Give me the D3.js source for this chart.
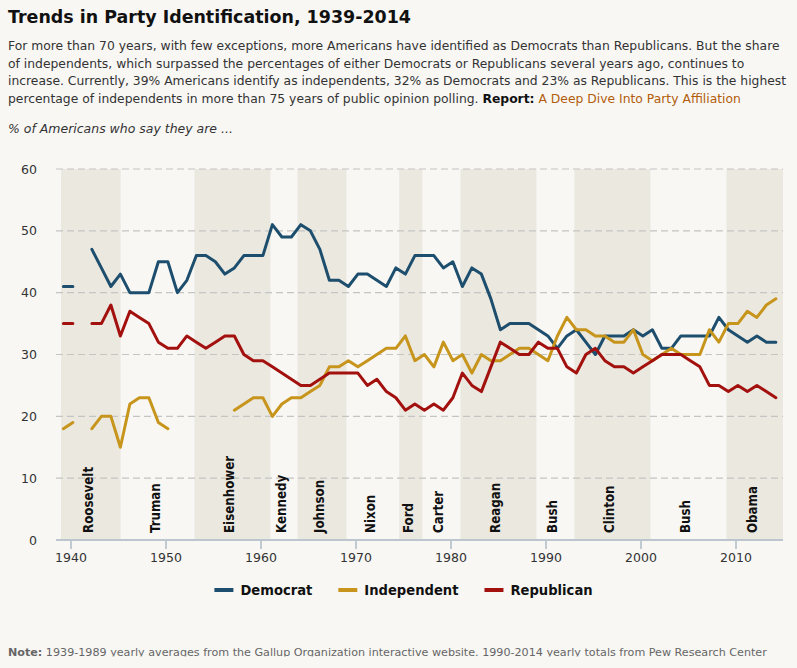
<!DOCTYPE html>
<html><head><meta charset="utf-8">
<script src="https://cdn.jsdelivr.net/npm/d3@7"></script>
<style>
html,body{margin:0;padding:0;background:#f8f7f4;}
svg{display:block;}
</style></head><body>
<svg id="chart" width="797" height="668"></svg>
<script>
// ---------------- DATA ----------------
const title = "Trends in Party Identification, 1939-2014";
const subtitleLines = [
  [{t:"For more than 70 years, with few exceptions, more Americans have identified as Democrats than Republicans. But the share"}],
  [{t:"of independents, which surpassed the percentages of either Democrats or Republicans several years ago, continues to"}],
  [{t:"increase. Currently, 39% Americans identify as independents, 32% as Democrats and 23% as Republicans. This is the highest"}],
  [{t:"percentage of independents in more than 75 years of public opinion polling. "},{t:"Report:", bold:true},{t:" "},{t:"A Deep Dive Into Party Affiliation", link:true}]
];
const yCaption = "% of Americans who say they are ...";
const noteLabel = "Note:";
const noteText = " 1939-1989 yearly averages from the Gallup Organization interactive website. 1990-2014 yearly totals from Pew Research Center";

const years = d3.range(1939, 2015);
const democrat = [41,41,null,47,44,41,43,40,40,40,45,45,
  40,42,46,46,45,43,44,46,46,46,
  51,49,49,51,50,47,42,42,41,43,
  43,42,41,44,43,46,46,46,44,45,
  41,44,43,39,34,35,35,35,34,33,
  31,33,34,32,30,33,33,33,34,33,
  34,31,31,33,33,33,33,36,34,33,
  32,33,32,32];
const independent = [18,19,null,18,20,20,15,22,23,23,19,18,
  null,null,null,null,null,null,21,22,23,23,
  20,22,23,23,24,25,28,28,29,28,
  29,30,31,31,33,29,30,28,32,29,
  30,27,30,29,29,30,31,31,30,29,
  33,36,34,34,33,33,32,32,34,30,
  29,30,31,30,30,30,34,32,35,35,
  37,36,38,39];
const republican = [35,35,null,35,35,38,33,37,36,35,32,31,
  31,33,32,31,32,33,33,30,29,29,
  28,27,26,25,25,26,27,27,27,27,
  25,26,24,23,21,22,21,22,21,23,
  27,25,24,28,32,31,30,30,32,31,
  31,28,27,30,31,29,28,28,27,28,
  29,30,30,30,29,28,25,25,24,25,
  24,25,24,23];

const seriesNames = ["Democrat","Independent","Republican"];
const seriesColors = ["#1d4e6d","#c7951c","#a3110f"];
const seriesValues = [democrat, independent, republican];

const yTicks = [0,10,20,30,40,50,60];
const xTicks = [1940,1950,1960,1970,1980,1990,2000,2010];

const presidentNames = ["Roosevelt","Truman","Eisenhower","Kennedy","Johnson","Nixon","Ford","Carter","Reagan","Bush","Clinton","Bush","Obama"];
const termStarts = [1939,1945.28,1953.05,1961.05,1963.89,1969.05,1974.6,1977.05,1981.05,1989.05,1993.05,2001.05,2009.05];
const termEnds   = [1945.28,1953.05,1961.05,1963.89,1969.05,1974.6,1977.05,1981.05,1989.05,1993.05,2001.05,2009.05,2015];

// ---------------- LAYOUT ----------------
const W = 797, H = 668;
const svg = d3.select("#chart");
const FONT = "'DejaVu Sans', Verdana, sans-serif";
const COND = "'DejaVu Sans Condensed', 'DejaVu Sans', sans-serif";

svg.append("rect").attr("width", W).attr("height", H).attr("fill", "#f8f7f4");

const x = d3.scaleLinear().domain([1939, 2015]).range([61, 783]);
const y = d3.scaleLinear().domain([0, 60]).range([540, 169]);
const pointOffset = 0.25; // annual values plotted slightly into the year

const fit = (sel, target, base) => {
  const w = sel.node().getComputedTextLength();
  sel.attr("font-size", base * target / w);
  return base * target / w;
};

// Title
const tTitle = svg.append("text").attr("x", 8).attr("y", 23)
  .attr("font-family", FONT).attr("font-weight", "bold").attr("font-size", 16)
  .attr("fill", "#111").text(title);
fit(tTitle, 403, 16);

// Subtitle
const subBase = [50, 67.7, 85.4, 103];
const subTexts = subtitleLines.map((segs, i) => {
  const t = svg.append("text").attr("x", 8).attr("y", subBase[i])
    .attr("font-family", FONT).attr("font-size", 12).attr("fill", "#333");
  segs.forEach(s => {
    t.append("tspan").text(s.t)
      .attr("font-weight", s.bold ? "bold" : null)
      .attr("fill", s.link ? "#b25d0b" : (s.bold ? "#111" : null));
  });
  return t;
});
const subSize = 12 * 772 / subTexts[0].node().getComputedTextLength();
subTexts.forEach(t => t.attr("font-size", subSize));

// caption
const cap = svg.append("text").attr("x", 8).attr("y", 133)
  .attr("font-family", FONT).attr("font-style", "italic").attr("font-size", 12)
  .attr("fill", "#333").text(yCaption);
fit(cap, 225, 12);

// President bands
const g = svg.append("g");
g.selectAll("rect.band").data(presidentNames.map((n,i)=>({n, s:termStarts[i], e:termEnds[i], i})).filter(d => d.i % 2 === 0))
  .join("rect").attr("class","band")
  .attr("x", d => x(d.s)).attr("width", d => x(d.e) - x(d.s))
  .attr("y", y(60)).attr("height", y(0) - y(60))
  .attr("fill", "#ebe8e0");

// gridlines
g.selectAll("line.grid").data(yTicks.filter(v => v > 0)).join("line").attr("class","grid")
  .attr("x1", 56).attr("x2", 783).attr("y1", d => y(d)).attr("y2", d => y(d))
  .attr("stroke", "#c4c4c2").attr("stroke-width", 1.2).attr("stroke-dasharray", "7,4");

// y axis labels
const yAxis = g.append("g").attr("transform", "translate(40,0)")
  .call(d3.axisLeft(y).tickValues(yTicks).tickSize(0).tickPadding(3));
yAxis.select(".domain").remove();
yAxis.selectAll("text").attr("font-family", FONT).attr("font-size", 12.5).attr("fill", "#333");

// x axis
const xAxis = g.append("g").attr("transform", `translate(0,${y(0)})`)
  .call(d3.axisBottom(x).tickValues(xTicks).tickFormat(d3.format("d")).tickSize(9).tickPadding(4));
xAxis.select(".domain").remove();
xAxis.selectAll(".tick line").attr("stroke", "#b3bec8").attr("stroke-width", 1.6);
xAxis.selectAll("text").attr("font-family", FONT).attr("font-size", 12.5).attr("fill", "#333");
g.append("line").attr("x1", 56).attr("x2", 783).attr("y1", y(0)).attr("y2", y(0))
  .attr("stroke", "#bcc6cf").attr("stroke-width", 2);

// president labels
g.selectAll("text.pres").data(presidentNames.map((n,i)=>({n, m:(termStarts[i]+termEnds[i])/2})))
  .join("text").attr("class","pres")
  .attr("transform", d => `translate(${x(d.m) + 2},533) rotate(-90)`)
  .attr("font-family", COND).attr("font-weight", "bold").attr("font-size", 13.2)
  .attr("fill", "#111").attr("text-anchor", "start").text(d => d.n);

// lines
const line = d3.line()
  .defined(d => d.v != null)
  .x(d => x(d.year + pointOffset)).y(d => y(d.v));
seriesValues.forEach((vals, si) => {
  const data = years.map((yr, i) => ({year: yr, v: vals[i]}));
  g.append("path").datum(data).attr("d", line)
    .attr("fill", "none").attr("stroke", seriesColors[si]).attr("stroke-width", 3)
    .attr("stroke-linejoin", "round").attr("stroke-linecap", "round");
});

// legend
const leg = svg.append("g");
let lx = 0;
seriesNames.forEach((n, i) => {
  const it = leg.append("g").attr("transform", `translate(${lx},0)`);
  it.append("line").attr("x1", 0).attr("x2", 19).attr("y1", 0).attr("y2", 0)
    .attr("stroke", seriesColors[i]).attr("stroke-width", 4);
  const tx = it.append("text").attr("x", 26).attr("y", 0).attr("dy", "0.35em")
    .attr("font-family", COND).attr("font-weight", "bold").attr("font-size", 14.6)
    .attr("fill", "#111").text(n);
  lx += 26 + tx.node().getComputedTextLength() + 26;
});
const legW = lx - 26;
leg.attr("transform", `translate(${403.5 - legW/2},590)`);

// note (bottom edge cut at the baseline, as in the source image)
svg.append("clipPath").attr("id", "noteClip").append("rect")
  .attr("x", 0).attr("y", 630).attr("width", W).attr("height", 26.5);
const note = svg.append("text").attr("x", 8).attr("y", 656).attr("clip-path", "url(#noteClip)")
  .attr("font-family", FONT).attr("font-size", 10).attr("fill", "#666");
note.append("tspan").attr("font-weight", "bold").text(noteLabel);
note.append("tspan").text(noteText);
fit(note, 760, 10);
</script>
</body></html>
